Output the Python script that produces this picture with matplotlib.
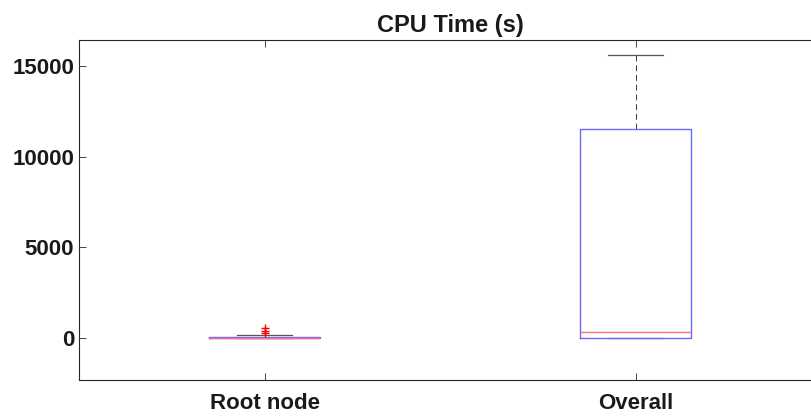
import matplotlib.pyplot as plt

plt.rcParams['font.family'] = ['Liberation Sans', 'DejaVu Sans']

# box statistics (CPU time, seconds)
labels = ["Root node", "Overall"]
q1 = [0, 0]
medians = [20, 330]
q3 = [35, 11550]
whisker_low = [0, 0]
whisker_high = [160, 15600]
outliers = [[250, 400, 550], []]

stats = []
for i in range(len(labels)):
    stats.append({
        "label": labels[i],
        "q1": q1[i], "med": medians[i], "q3": q3[i],
        "whislo": whisker_low[i], "whishi": whisker_high[i],
        "fliers": outliers[i],
    })

fig = plt.figure(figsize=(8.11, 4.16), dpi=100)
# axes run past the right edge, as in the cropped reference
ax = fig.add_axes([0.0974, 0.0865, 0.915, 0.8173])

ax.bxp(stats, positions=[1, 2], widths=0.3, capwidths=0.148,
       boxprops=dict(color="#6a6aff", linewidth=1.0, zorder=3),
       medianprops=dict(color="#ff7070", linewidth=1.0, zorder=4),
       whiskerprops=dict(color="#333333", linestyle=(0, (6, 4)), linewidth=0.7),
       capprops=dict(color="#555555", linewidth=0.9),
       flierprops=dict(marker="+", markeredgecolor="red", markersize=6,
                       linestyle="none", zorder=5))

ax.set_xlim(0.5, 2.5)
ax.set_ylim(-2320, 16430)
ax.set_yticks([0, 5000, 10000, 15000])
ax.set_title("CPU Time (s)", fontsize=17, fontweight="bold", pad=6,
             color="#1a1a1a")

for s in ax.spines.values():
    s.set_color("#262626")
    s.set_linewidth(0.8)
ax.tick_params(direction="in", top=True, right=True, length=5, width=0.6,
               colors="#262626", labelsize=16, labelcolor="#1a1a1a")
ax.tick_params(axis="x", pad=9)
for lab in ax.get_xticklabels() + ax.get_yticklabels():
    lab.set_fontweight("bold")

fig.savefig("out.png", dpi=100)
